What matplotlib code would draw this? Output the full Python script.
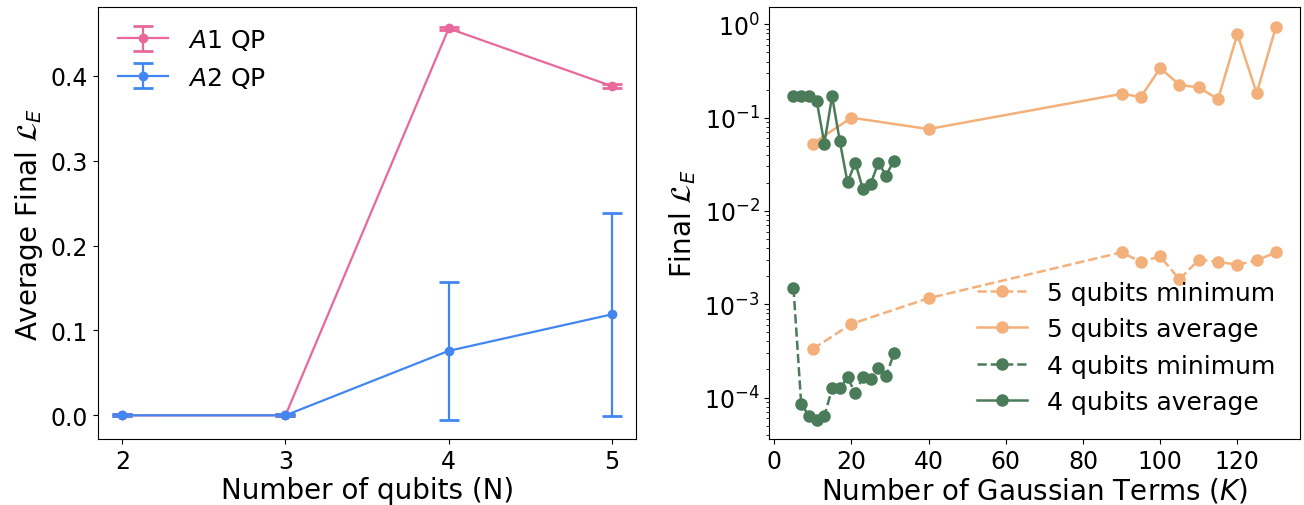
import matplotlib
matplotlib.use("Agg")
import matplotlib.pyplot as plt

# Left panel data
qubits = [2, 3, 4, 5]
a1_mean = [0.0, 0.0, 0.456, 0.388]
a1_err = [0.001, 0.001, 0.002, 0.002]
a2_mean = [0.0, 0.0, 0.076, 0.119]
a2_err = [0.001, 0.001, 0.081, 0.120]

# Right panel data
k5 = [10, 20, 40, 90, 95, 100, 105, 110, 115, 120, 125, 130]
q5_avg = [0.0528, 0.100, 0.0755, 0.180, 0.167, 0.340, 0.225, 0.211, 0.158, 0.787, 0.183, 0.944]
q5_min = [3.31e-4, 6.15e-4, 1.16e-3, 3.6e-3, 2.85e-3, 3.25e-3, 1.85e-3, 3.0e-3, 2.85e-3, 2.65e-3, 2.95e-3, 3.6e-3]
k4 = [5, 7, 9, 11, 13, 15, 17, 19, 21, 23, 25, 27, 29, 31]
q4_avg = [0.170, 0.170, 0.170, 0.152, 0.0528, 0.170, 0.056, 0.0202, 0.033, 0.0171, 0.0195, 0.033, 0.0239, 0.0347]
q4_min = [1.50e-3, 8.45e-5, 6.41e-5, 5.80e-5, 6.31e-5, 1.25e-4, 1.25e-4, 1.64e-4, 1.11e-4, 1.67e-4, 1.57e-4, 2.09e-4, 1.68e-4, 2.97e-4]

pink = "#E8689B"
blue = "#4287F0"
orange = "#F4B07A"
green = "#4A7C59"

plt.rcParams['font.family'] = ['DejaVu Sans']
plt.rcParams['mathtext.fontset'] = 'dejavusans'

fig = plt.figure(figsize=(13.04, 5.06), dpi=100)
ax1 = fig.add_axes([0.075, 0.130, 0.413, 0.854])
ax2 = fig.add_axes([0.590, 0.130, 0.407, 0.854])

ax1.errorbar(qubits, a1_mean, yerr=a1_err, color=pink, marker='o', markersize=6,
             linewidth=1.6, capsize=7, capthick=2, label=r'$A1$ QP')
ax1.errorbar(qubits, a2_mean, yerr=a2_err, color=blue, marker='o', markersize=6,
             linewidth=1.6, capsize=7, capthick=2, label=r'$A2$ QP')
ax1.set_xticks(qubits)
ax1.set_yticks([0.0, 0.1, 0.2, 0.3, 0.4])
ax1.tick_params(labelsize=17)
ax1.set_xlabel('Number of qubits (N)', fontsize=20, labelpad=2)
ax1.set_ylabel(r'Average Final $\mathcal{L}_E$', fontsize=20)
ax1.legend(loc='upper left', fontsize=18, frameon=False, borderaxespad=0.4)

ax2.plot(k5, q5_min, color=orange, linestyle='--', marker='o', markersize=8, linewidth=1.8, label='5 qubits minimum')
ax2.plot(k5, q5_avg, color=orange, linestyle='-', marker='o', markersize=8, linewidth=1.8, label='5 qubits average')
ax2.plot(k4, q4_min, color=green, linestyle='--', marker='o', markersize=8, linewidth=1.8, label='4 qubits minimum')
ax2.plot(k4, q4_avg, color=green, linestyle='-', marker='o', markersize=8, linewidth=1.8, label='4 qubits average')
ax2.set_yscale('log')
ax2.set_xticks([0, 20, 40, 60, 80, 100, 120])
ax2.tick_params(labelsize=17)
ax2.set_xlabel(r'Number of Gaussian Terms ($K$)', fontsize=20, labelpad=2)
ax2.set_ylabel(r'Final $\mathcal{L}_E$', fontsize=20)
ax2.legend(loc='lower right', fontsize=18, frameon=False, borderaxespad=0.6)

fig.savefig('out.png', dpi=100)
